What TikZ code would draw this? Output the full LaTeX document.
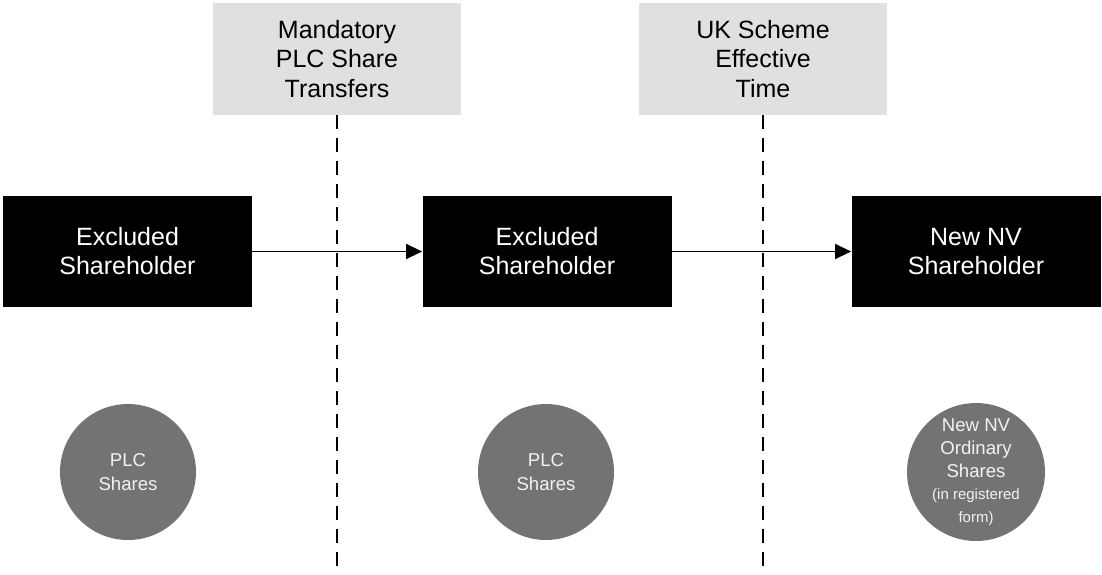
\documentclass[tikz,border=0pt]{standalone}
\usepackage{fontspec}
\setmainfont{Liberation Sans}
\usetikzlibrary{arrows.meta,positioning}

\definecolor{greybox}{RGB}{224,224,224}
\definecolor{sharegrey}{RGB}{115,115,115}
\definecolor{sharetext}{RGB}{242,242,242}

\tikzset{
  holder/.style={fill=black, text=white, minimum width=124.5pt, minimum height=55.5pt,
    inner sep=0pt, align=center, font=\fontsize{12.5}{14.5}\selectfont},
  event/.style={fill=greybox, text=black, minimum width=124pt, minimum height=56pt,
    inner sep=0pt, align=center, font=\fontsize{12.5}{14.7}\selectfont},
  shares/.style={circle, fill=sharegrey, text=sharetext, minimum size=68pt,
    inner sep=0pt, align=center, font=\fontsize{9.3}{11.6}\selectfont},
  timeline/.style={dash pattern=on 7pt off 4.5pt, line width=0.9pt},
  arr/.style={-{Triangle[length=8pt,width=7.5pt]}, line width=0.75pt}
}

\begin{document}
\begin{tikzpicture}[x=0.5pt, y=-0.5pt]
  \useasboundingbox (0,0) rectangle (1102,574);

  % events
  \node[event] (mandatory) at (337,59) {Mandatory\\PLC Share\\Transfers};
  \node[event] (ukscheme) at (763,59) {UK Scheme\\Effective\\Time};
  \coordinate (bottom) at (0,574);
  \draw[timeline] (mandatory.south) -- (mandatory.south |- bottom);
  \draw[timeline] (ukscheme.south) -- (ukscheme.south |- bottom);

  % shareholders
  \node[holder] (exclA) at (127.5,251.5) {Excluded\\Shareholder};
  \node[holder] (exclB) at (547,251.5) {Excluded\\Shareholder};
  \node[holder] (newnv) at (976,251.5) {New NV\\Shareholder};
  \draw[arr] (exclA) -- (exclB);
  \draw[arr] (exclB) -- (newnv);

  % shares
  \node[shares] (plcA) at (128,472) {PLC\\Shares};
  \node[shares] (plcB) at (546,472) {PLC\\Shares};
  \node[shares] (nvshares) at (976,472) {New NV\\Ordinary\\Shares\\[-1pt]
    {\fontsize{7.5}{10}\selectfont (in registered}\\
    {\fontsize{7.5}{10}\selectfont form)}};
\end{tikzpicture}
\end{document}
